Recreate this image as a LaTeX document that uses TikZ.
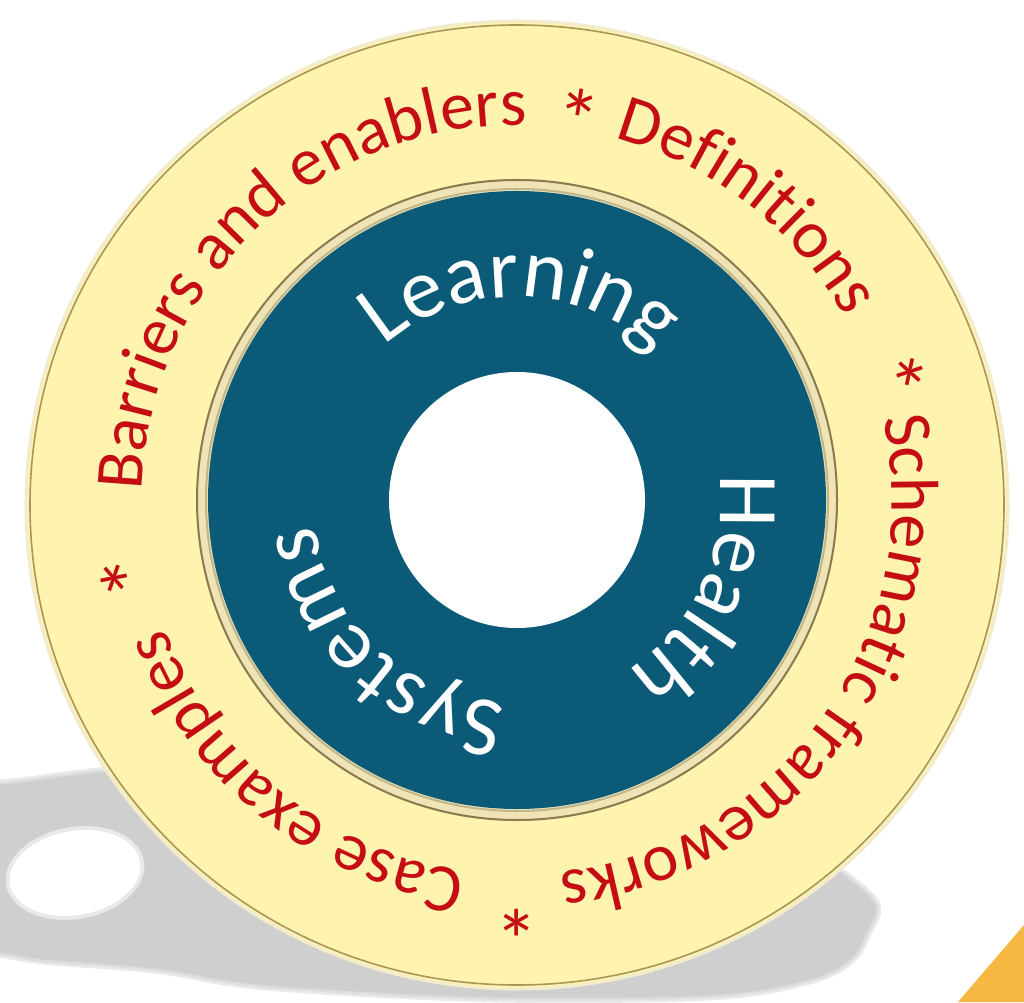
\documentclass[tikz,border=0pt]{standalone}
\usepackage{fontspec}
\setmainfont{Carlito}
\usetikzlibrary{decorations.text}
\definecolor{ringred}{RGB}{196,14,20}
\definecolor{discyellow}{RGB}{255,243,176}
\definecolor{tealdisc}{RGB}{11,91,120}
\definecolor{shadowgray}{RGB}{207,207,207}
\definecolor{rimgold}{RGB}{168,150,90}
\definecolor{rimlight}{RGB}{238,228,182}
\definecolor{rimdark}{RGB}{140,122,78}
\definecolor{orangecorner}{RGB}{246,184,66}
\newcommand\myringfont{\fontsize{68}{80}\selectfont}
\newcommand\mystarfont{\fontsize{88}{100}\selectfont}
\newcommand\mycorefont{\fontsize{85}{100}\selectfont}
\begin{document}
\begin{tikzpicture}[x=1pt,y=1pt,
  ringtext/.style={decorate, decoration={text along path, text align=center, text color=ringred, text={|\myringfont|#1}}},
  coretext/.style={decorate, decoration={text along path, text align=center, text color=white, text={|\mycorefont|#1}}},
  starmark/.style={text=ringred, font=\mystarfont, anchor=center, inner sep=0pt}]
\useasboundingbox (0,0) rectangle (1024,1002);
\fill[white] (0,0) rectangle (1024,1002);
% shadow
\def\shadowpath{plot[smooth cycle, tension=0.75] coordinates {(-70,140) (-30,205) (40,222) (200,240) (400,262) (700,202) (850,122) (868,72) (800,20) (600,4) (300,14) (150,34) (20,46) (-50,70)}}
\draw[shadowgray!45, line width=10] \shadowpath;
\draw[shadowgray!70, line width=5] \shadowpath;
\fill[shadowgray] \shadowpath;
\fill[white!55!shadowgray, rotate around={10:(75,129)}] (75,129) ellipse [x radius=70, y radius=46];
\fill[white, rotate around={10:(75,129)}] (75,129) ellipse [x radius=66, y radius=42];
% orange corner
\fill[orangecorner] (958,0) -- (1024,77) -- (1024,0) -- cycle;
% outer disc
\coordinate (O) at (517,497);
\coordinate (C) at (517,502);
\fill[discyellow] (O) ellipse [x radius=492, y radius=485];
\draw[rimlight!70!white, line width=3] (O) ellipse [x radius=491, y radius=484];
\draw[rimgold, line width=1.6] (O) ellipse [x radius=487, y radius=480];
% teal disc
\fill[rimlight] (C) circle [radius=321];
\draw[rimdark, line width=2] (C) circle [radius=320];
\draw[rimgold!70, line width=2] (C) circle [radius=311];
\fill[tealdisc] (C) circle [radius=309];
\fill[white] (C) circle [radius=128];
% outer ring texts
\path[ringtext={Barriers and enablers}] ([shift={(203.5:375)}]C) arc[start angle=203.5, end angle=63.5, radius=375];
\path[ringtext={Definitions}] ([shift={(122:375)}]C) arc[start angle=122, end angle=-18, radius=375];
\path[ringtext={Schematic frameworks}] ([shift={(34.5:375)}]C) arc[start angle=34.5, end angle=-105.5, radius=375];
\path[ringtext={Case examples}] ([shift={(-59:375)}]C) arc[start angle=-59, end angle=-199, radius=375];
\node[starmark, rotate=-9] (s1) at ([shift={(81:385)}]C) {*};
\node[starmark, rotate=-72] (s2) at ([shift={(18:395)}]C) {*};
\node[starmark, rotate=-180] (s3) at ([shift={(-90:405)}]C) {*};
\node[starmark, rotate=101] (s4) at ([shift={(191:393)}]C) {*};
% inner texts
\path[coretext={Learning}] ([shift={(159:203)}]C) arc[start angle=159, end angle=19, radius=203];
\path[coretext={Health}] ([shift={(45:203)}]C) arc[start angle=45, end angle=-95, radius=203];
\path[coretext={Systems}] ([shift={(-63:203)}]C) arc[start angle=-63, end angle=-203, radius=203];
\end{tikzpicture}
\end{document}
